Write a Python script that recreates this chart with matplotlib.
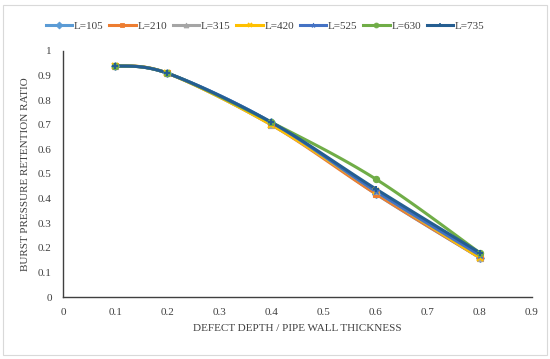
import numpy as np
import matplotlib
matplotlib.use("Agg")
import matplotlib.pyplot as plt
from matplotlib.patches import FancyBboxPatch

plt.rcParams['font.family'] = ['Liberation Serif', 'DejaVu Serif']

depth_ratio = [0.1, 0.2, 0.4, 0.6, 0.8]
series_names = ["L=105", "L=210", "L=315", "L=420", "L=525", "L=630", "L=735"]
l105 = [0.94, 0.91, 0.71, 0.42, 0.16]
l210 = [0.94, 0.91, 0.70, 0.42, 0.16]
l315 = [0.94, 0.91, 0.70, 0.43, 0.16]
l420 = [0.94, 0.91, 0.70, 0.43, 0.16]
l525 = [0.94, 0.91, 0.71, 0.43, 0.17]
l630 = [0.94, 0.91, 0.71, 0.48, 0.18]
l735 = [0.94, 0.91, 0.71, 0.44, 0.18]
all_series = [l105, l210, l315, l420, l525, l630, l735]

colors = ["#5B9BD5", "#ED7D31", "#A5A5A5", "#FFC000", "#4472C4", "#70AD47", "#255E91"]
markers = ["D", "s", "^", "x", "*", "o", "+"]


def smooth(x, y, n=30):
    # Catmull-Rom style curve through the points, like Excel's smoothed line
    x = np.asarray(x, float)
    y = np.asarray(y, float)
    px = np.concatenate([[x[0]], x, [x[-1]]])
    py = np.concatenate([[y[0]], y, [y[-1]]])
    xs, ys = [], []
    for i in range(1, len(px) - 2):
        p0, p1, p2, p3 = [np.array([px[j], py[j]]) for j in (i - 1, i, i + 1, i + 2)]
        c1 = p1 + (p2 - p0) / 6
        c2 = p2 - (p3 - p1) / 6
        t = np.linspace(0, 1, n)[:, None]
        pts = ((1 - t) ** 3) * p1 + 3 * ((1 - t) ** 2) * t * c1 + 3 * (1 - t) * t ** 2 * c2 + t ** 3 * p2
        xs.extend(pts[:, 0])
        ys.extend(pts[:, 1])
    return xs, ys


fig = plt.figure(figsize=(5.5, 3.59), dpi=100)
fig.patches.append(FancyBboxPatch((0.006, 0.01), 0.988, 0.975, boxstyle="square,pad=0",
                                  transform=fig.transFigure, fill=False,
                                  edgecolor="#d9d9d9", linewidth=0.8))
ax = fig.add_axes([0.1145, 0.1727, 0.8525, 0.6853])

for name, vals, c, m in zip(series_names, all_series, colors, markers):
    sx, sy = smooth(depth_ratio, vals)
    ax.plot(sx, sy, color=c, linewidth=2.2, zorder=2)
    ax.plot(depth_ratio, vals, linestyle="none", marker=m, color=c, markersize=4.5,
            markeredgewidth=1.5 if m in ("x", "+") else 0.8, zorder=3)
    ax.plot([], [], color=c, linewidth=2.2, marker=m, markersize=3.5,
            markeredgewidth=1.2 if m in ("x", "+") else 0.6, label=name)

ax.set_xlim(0, 0.9)
ax.set_ylim(0, 1)
ax.set_xticks(np.arange(0, 0.91, 0.1))
ax.set_yticks(np.arange(0, 1.01, 0.1))
ax.set_xticklabels(["0", "0.1", "0.2", "0.3", "0.4", "0.5", "0.6", "0.7", "0.8", "0.9"])
ax.set_yticklabels(["0", "0.1", "0.2", "0.3", "0.4", "0.5", "0.6", "0.7", "0.8", "0.9", "1"])
ax.tick_params(length=0, labelsize=8, colors="#404040", pad=8)
for s in ("top", "right"):
    ax.spines[s].set_visible(False)
for s in ("left", "bottom"):
    ax.spines[s].set_color("#404040")
    ax.spines[s].set_linewidth(1.0)

ax.set_xlabel("DEFECT DEPTH / PIPE WALL THICKNESS", fontsize=8, color="#404040", labelpad=5)
ax.set_ylabel("BURST PRESSURE RETENTION RATIO", fontsize=8, color="#404040", labelpad=6)

fig.legend(loc="center", bbox_to_anchor=(0.482, 0.927), ncol=7, frameon=False,
           fontsize=8, handlelength=2.4, columnspacing=0.5, handletextpad=0.15,
           labelcolor="#404040")

fig.savefig("out.png", dpi=100)
